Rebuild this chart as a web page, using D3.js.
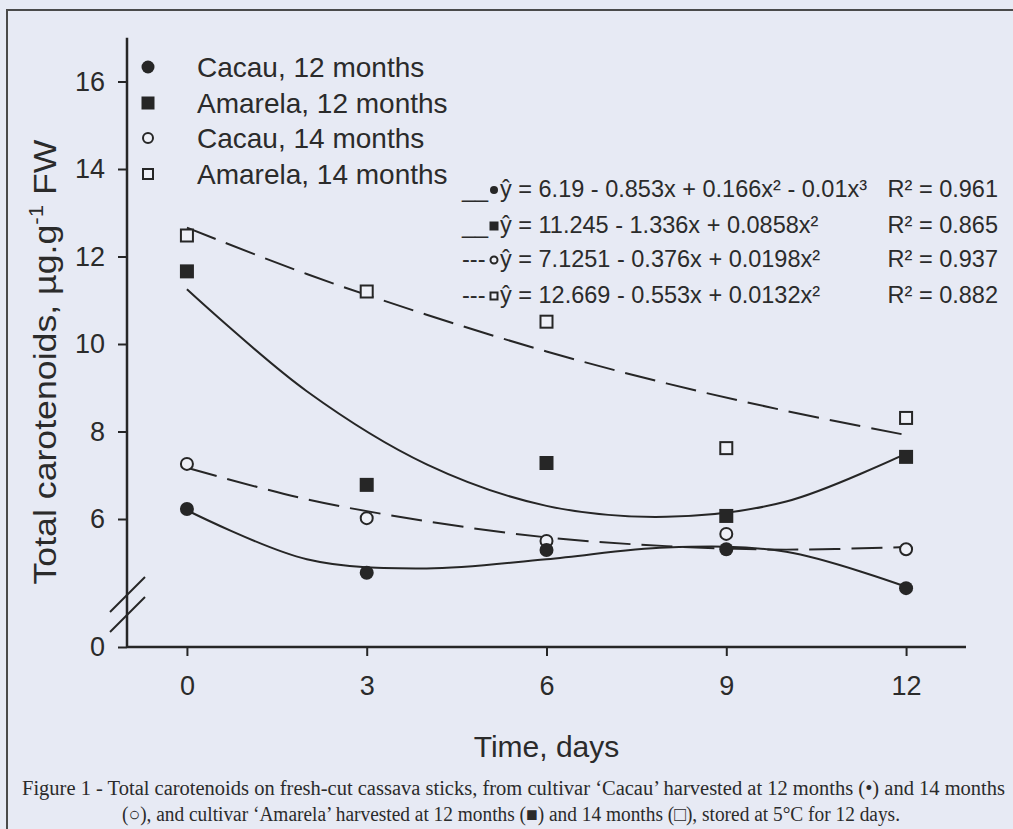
<!DOCTYPE html>
<html>
<head>
<meta charset="utf-8">
<script src="https://cdn.jsdelivr.net/npm/d3@7"></script>
<style>
  html, body { margin: 0; padding: 0; background: #e7eaf4; }
  svg { display: block; }
  text { fill: #2b2b2b; }
</style>
</head>
<body>
<div id="chart"></div>
<script>
(function () {
  const WIDTH = 1013, HEIGHT = 829;

  const days = [0, 3, 6, 9, 12];
  const cacau12 = [6.23, 4.77, 5.29, 5.31, 4.42];
  const amarela12 = [11.66, 6.78, 7.28, 6.07, 7.42];
  const cacau14 = [7.26, 6.02, 5.5, 5.66, 5.31];
  const amarela14 = [12.48, 11.2, 10.51, 7.62, 8.31];

  // fitted curves, sampled off the figure
  const fitDays = [0, 2, 4, 6, 8, 10, 12];
  const fitCacau12 = [6.2, 5.08, 4.87, 5.08, 5.35, 5.25, 4.45];
  const fitAmarela12 = [11.25, 8.92, 7.25, 6.3, 6.05, 6.4, 7.5];
  const fitCacau14 = [7.17, 6.45, 5.95, 5.58, 5.38, 5.3, 5.36];
  const fitAmarela14 = [12.66, 11.6, 10.67, 9.83, 9.1, 8.47, 7.92];

  const xTicks = [0, 3, 6, 9, 12];
  const yTicks = [0, 6, 8, 10, 12, 14, 16];

  const legendLabels = ["Cacau, 12 months", "Amarela, 12 months", "Cacau, 14 months", "Amarela, 14 months"];
  const equations = [
    "ŷ = 6.19 - 0.853x + 0.166x² - 0.01x³",
    "ŷ = 11.245 - 1.336x + 0.0858x²",
    "ŷ = 7.1251 - 0.376x + 0.0198x²",
    "ŷ = 12.669 - 0.553x + 0.0132x²"
  ];
  const rSquared = ["R² = 0.961", "R² = 0.865", "R² = 0.937", "R² = 0.882"];
  const eqPrefix = ["__", "__", "---", "---"];
  const caption = [
    "Figure 1 - Total carotenoids on fresh-cut cassava sticks, from cultivar ‘Cacau’ harvested at 12 months (•) and 14 months",
    "(○), and cultivar ‘Amarela’ harvested at 12 months (■) and 14 months (□), stored at 5°C for 12 days."
  ];

  const series = [
    { name: legendLabels[0], values: cacau12, fit: fitCacau12, marker: "circle", filled: true, dashed: false },
    { name: legendLabels[1], values: amarela12, fit: fitAmarela12, marker: "square", filled: true, dashed: false },
    { name: legendLabels[2], values: cacau14, fit: fitCacau14, marker: "circle", filled: false, dashed: true },
    { name: legendLabels[3], values: amarela14, fit: fitAmarela14, marker: "square", filled: false, dashed: true }
  ];

  const INK = "#262626";
  const svg = d3.select("#chart").append("svg").attr("width", WIDTH).attr("height", HEIGHT);

  // figure frame
  svg.append("rect").attr("x", 7).attr("y", 10).attr("width", WIDTH + 20).attr("height", HEIGHT)
    .attr("fill", "none").attr("stroke", "#4a4a4a").attr("stroke-width", 2);

  const x = d3.scaleLinear().domain([-1, 13]).range([127, 966]);
  // broken axis: 0..4 squeezed into the bottom gap
  const y = d3.scaleLinear().domain([0, 4, 17]).range([647, 606.5, 37.75]);

  const font = "'Liberation Sans', Arial, sans-serif";

  // axes
  const yAxis = svg.append("g").attr("transform", `translate(${x(-1)},0)`)
    .call(d3.axisLeft(y).tickValues(yTicks).tickSize(9).tickPadding(13).tickFormat(d3.format("d")));
  const xAxis = svg.append("g").attr("transform", `translate(0,${y(0)})`)
    .call(d3.axisBottom(x).tickValues(xTicks).tickSize(9).tickPadding(20).tickFormat(d3.format("d")));
  [yAxis, xAxis].forEach(a => {
    a.select(".domain").attr("stroke", INK).attr("stroke-width", 2.5);
    a.selectAll(".tick line").attr("stroke", INK).attr("stroke-width", 2);
    a.selectAll(".tick text").attr("fill", "#2b2b2b").style("font-family", font).style("font-size", "27px");
  });
  yAxis.select(".domain").attr("d", `M0,${y(17)}V${y(0)}`);
  xAxis.select(".domain").attr("d", `M${x(-1)},0H${x(13)}`);

  // axis break marks
  const bx = x(-1);
  [[612, 577], [632, 597]].forEach(([y1, y2]) => {
    svg.append("line").attr("x1", bx - 17).attr("y1", y1).attr("x2", bx + 18).attr("y2", y2)
      .attr("stroke", INK).attr("stroke-width", 2);
  });

  // axis titles
  svg.append("text").attr("x", x(6)).attr("y", 757).attr("text-anchor", "middle")
    .style("font-family", font).style("font-size", "30px").text("Time, days");

  const yt = svg.append("text").attr("transform", "translate(56,362) rotate(-90)")
    .attr("text-anchor", "middle").attr("textLength", 445).attr("lengthAdjust", "spacingAndGlyphs")
    .style("font-family", font).style("font-size", "32px");
  yt.append("tspan").text("Total carotenoids, µg.g");
  yt.append("tspan").attr("dy", -13).style("font-size", "20px").text("-1");
  yt.append("tspan").attr("dy", 13).text(" FW");

  // fitted curves
  const line = d3.line().x((d, i) => x(fitDays[i])).y(d => y(d)).curve(d3.curveCatmullRom.alpha(0.5));
  svg.append("g").selectAll("path").data(series).join("path")
    .attr("d", d => line(d.fit))
    .attr("fill", "none").attr("stroke", INK).attr("stroke-width", 2)
    .attr("stroke-dasharray", d => d.dashed ? "31,11" : null);

  function drawMarker(g, s, cx, cy, size) {
    if (s.marker === "circle") {
      g.append("circle").attr("cx", cx).attr("cy", cy).attr("r", s.filled ? size / 2 : size / 2 - 1)
        .attr("fill", s.filled ? INK : "#eef0f7").attr("stroke", INK).attr("stroke-width", s.filled ? 0 : 2);
    } else {
      const h = s.filled ? size / 2 : size / 2 - 1;
      g.append("rect").attr("x", cx - h).attr("y", cy - h).attr("width", 2 * h).attr("height", 2 * h)
        .attr("fill", s.filled ? INK : "#eef0f7").attr("stroke", INK).attr("stroke-width", s.filled ? 0 : 2);
    }
  }

  // points
  const pts = svg.append("g");
  [3, 1, 2, 0].forEach(k => {
    const s = series[k];
    s.values.forEach((v, i) => drawMarker(pts, s, x(days[i]), y(v), 14));
  });

  // legend
  const legend = svg.append("g");
  const legendY = [67, 103, 138, 174];
  series.forEach((s, i) => {
    drawMarker(legend, s, 148, legendY[i], s.filled ? 13 : 12);
    legend.append("text").attr("x", 197).attr("y", legendY[i]).attr("dy", "0.36em")
      .style("font-family", font).style("font-size", "28px").text(s.name);
  });

  // regression equations
  const eq = svg.append("g");
  const eqY = [189, 225, 259, 295];
  const eqSize = "23.5px";
  series.forEach((s, i) => {
    eq.append("text").attr("x", 462).attr("y", eqY[i]).attr("dy", "0.36em")
      .style("font-family", font).style("font-size", eqSize).text(eqPrefix[i]);
    const ms = s.filled ? (s.marker === "circle" ? 8 : 9) : 9;
    drawMarker(eq, s, 494, eqY[i] + 1, ms);
    eq.append("text").attr("x", 500).attr("y", eqY[i]).attr("dy", "0.36em")
      .style("font-family", font).style("font-size", eqSize).text(equations[i]);
    eq.append("text").attr("x", 998).attr("y", eqY[i]).attr("dy", "0.36em").attr("text-anchor", "end")
      .style("font-family", font).style("font-size", eqSize).text(rSquared[i]);
  });

  // caption
  const serif = "'Liberation Serif', 'Times New Roman', serif";
  svg.append("text").attr("x", 22).attr("y", 795).attr("textLength", 983).attr("lengthAdjust", "spacingAndGlyphs")
    .style("font-family", serif).style("font-size", "20px").text(caption[0]);
  svg.append("text").attr("x", 122).attr("y", 821).attr("textLength", 778).attr("lengthAdjust", "spacingAndGlyphs")
    .style("font-family", serif).style("font-size", "20px").text(caption[1]);
})();
</script>
</body>
</html>
